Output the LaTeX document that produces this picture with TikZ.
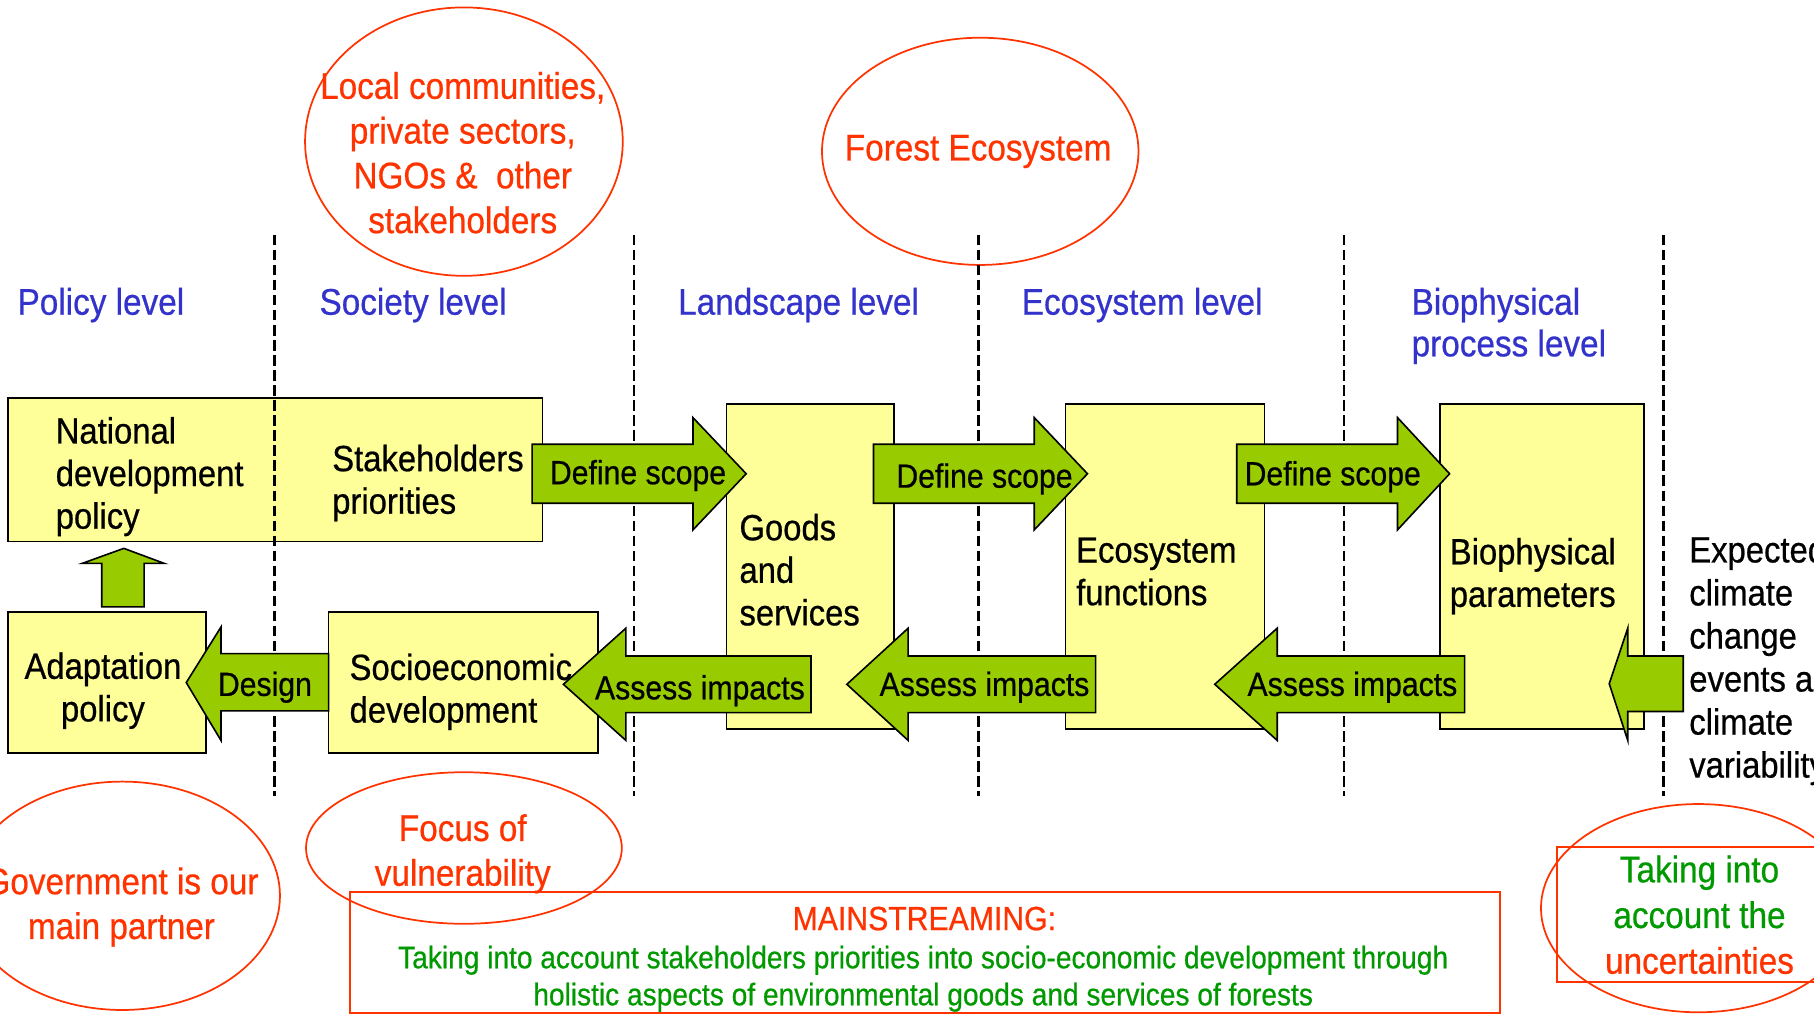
\documentclass[tikz,border=0pt]{standalone}
\usepackage{fontspec}
\setmainfont{Liberation Sans}[FakeStretch=0.9,FakeBold=0.6]
\usetikzlibrary{shapes.geometric}

\definecolor{boxyellow}{HTML}{FFFF99}
\definecolor{arrgreen}{HTML}{99CC00}
\definecolor{ored}{HTML}{FF3300}
\definecolor{lvlblue}{HTML}{3333CC}
\definecolor{txtgreen}{HTML}{009900}

\tikzset{
  lvl/.style={anchor=base west, text=lvlblue, align=left, inner sep=0,
    font=\fontsize{32}{36}\selectfont},
  ybox/.style={draw, fill=boxyellow, line width=1.5pt, inner sep=0},
  btxt/.style={inner sep=0, align=left, font=\fontsize{31.5}{36.8}\selectfont},
  garr/.style={draw, fill=arrgreen, line width=1.4pt, line join=miter},
  atxt/.style={inner sep=0, font=\fontsize{29}{34}\selectfont},
  bubble/.style={ellipse, draw=ored, line width=1.5pt, inner sep=0},
  rtxt/.style={inner sep=0, align=center, text=ored,
    font=\fontsize{32}{38.7}\selectfont},
  rbox/.style={draw=ored, line width=1.5pt, inner sep=0},
  sep/.style={dash pattern=on 9pt off 4pt}
}

\begin{document}
\begin{tikzpicture}[x=1pt,y=-1pt]
  \useasboundingbox (0,0) rectangle (1568,876);

  % levels
  \node[lvl] (pol) at (15,272)   {Policy level};
  \node[lvl] (soc) at (276,272)  {Society level};
  \node[lvl] (lan) at (586,272)  {Landscape level};
  \node[lvl] (eco) at (883,272)  {Ecosystem level};
  \node[lvl] (bio) at (1220,308) {Biophysical\\process level};

  % red bubbles
  \node[bubble, minimum width=274.6pt, minimum height=232pt] (comm) at (401,122.4) {};
  \node[rtxt] (commtxt) at (400,132) {Local communities,\\private sectors,\\NGOs \&~ other\\stakeholders};
  \node[bubble, minimum width=273.6pt, minimum height=196.4pt] (forest) at (847.3,130.8) {};
  \node[rtxt] (foresttxt) at (845.5,131) {Forest Ecosystem};
  \node[bubble, minimum width=272.6pt, minimum height=197.4pt] (gov) at (105.7,774.3) {};
  \node[rtxt] (govtxt) at (105,784) {Government is our\\main partner};
  \node[bubble, minimum width=273pt, minimum height=131pt] (focus) at (401,733) {};
  \node[rtxt] (focustxt) at (400,738) {Focus of\\vulnerability};
  \node[bubble, minimum width=272pt, minimum height=180pt] (uncert) at (1468,785) {};

  % red boxes
  \node[rbox, minimum width=994.2pt, minimum height=104.5pt] (mains) at (799.7,823.3) {};
  \node[inner sep=0, text=ored, font=\fontsize{29}{32}\selectfont] (mtitle) at (799,794) {MAINSTREAMING:};
  \node[inner sep=0, align=center, text=txtgreen, font=\fontsize{27}{32}\selectfont] (mtext) at (798,846)
    {Taking into account stakeholders priorities into socio-economic development through\\holistic aspects of environmental goods and services of forests};
  \node[rbox, minimum width=246.6pt, minimum height=116.7pt, align=center, text=txtgreen,
    font=\fontsize{32}{39.5}\selectfont] (acc) at (1469,790.7)
    {Taking into\\account the\\\textcolor{ored}{uncertainties}};

  % yellow boxes
  \node[ybox, minimum width=462pt, minimum height=124pt] (top) at (238,406) {};
  \node[btxt, anchor=west] (nat) at (48,412) {National\\development\\policy};
  \node[btxt, anchor=west] (stk) at (287,417.5) {Stakeholders\\priorities};
  \node[ybox, minimum width=171pt, minimum height=122pt] (adapt) at (92.5,590) {};
  \node[btxt, align=center] (adtxt) at (89,597) {Adaptation\\policy};
  \node[ybox, minimum width=233pt, minimum height=122pt] (socio) at (400.5,590) {};
  \node[btxt, anchor=west] (sotxt) at (302,598) {Socioeconomic\\development};
  \node[ybox, minimum width=145pt, minimum height=281pt] (goods) at (700.5,489.5) {};
  \node[btxt, anchor=west] (gdtxt) at (639,492.5) {Goods\\and\\services};
  \node[ybox, minimum width=172pt, minimum height=281pt] (ecof) at (1007,489.5) {};
  \node[btxt, anchor=west] (eftxt) at (930,494) {Ecosystem\\functions};
  \node[ybox, minimum width=176pt, minimum height=281pt] (biop) at (1333,489.5) {};
  \node[btxt, anchor=west] (bptxt) at (1253,498) {Biophysical\\parameters};

  % level borders
  \foreach \x/\w in {237/2.6, 548/1.6, 846/2.6, 1162/1.6, 1438/2.6}
    \draw[sep, line width=\w pt] (\x,203) -- (\x,688);

  % block arrows
  \draw[garr] (460,384) -- (599,384) -- (599,361) -- (645,409.5) -- (599,458) -- (599,435) -- (460,435) -- cycle;
  \draw[garr] (755,384) -- (894,384) -- (894,361) -- (940,409.5) -- (894,458) -- (894,435) -- (755,435) -- cycle;
  \draw[garr] (1069,384) -- (1208,384) -- (1208,361) -- (1253,409.5) -- (1208,458) -- (1208,435) -- (1069,435) -- cycle;
  \draw[garr] (701,567) -- (541,567) -- (541,543) -- (487,591.5) -- (541,640) -- (541,616) -- (701,616) -- cycle;
  \draw[garr] (947,567) -- (785,567) -- (785,543) -- (732,591.5) -- (785,640) -- (785,616) -- (947,616) -- cycle;
  \draw[garr] (1266,567) -- (1104,567) -- (1104,543) -- (1050,591.5) -- (1104,640) -- (1104,616) -- (1266,616) -- cycle;
  \draw[garr] (284,565) -- (191,565) -- (191,542) -- (161,590) -- (191,640) -- (191,614.5) -- (284,614.5) -- cycle;
  \draw[garr] (1455,567) -- (1407,567) -- (1407,543) -- (1391,591) -- (1407,640) -- (1407,615) -- (1455,615) -- cycle;
  \draw[garr] (88,524.6) -- (88,487) -- (71,487) -- (107,474) -- (142,487) -- (124.6,487) -- (124.6,524.6) -- cycle;

  \node[atxt] (def1) at (551.5,411) {Define scope};
  \node[atxt] (def2) at (851,414)   {Define scope};
  \node[atxt] (def3) at (1152,412)  {Define scope};
  \node[atxt] (ass1) at (605,597)   {Assess impacts};
  \node[atxt] (ass2) at (851,594)   {Assess impacts};
  \node[atxt] (ass3) at (1169,594)  {Assess impacts};
  \node[atxt] (dsgn) at (229,594)   {Design};

  % climate driver
  \node[btxt, anchor=west, font=\fontsize{31.5}{37.2}\selectfont] (clim) at (1460,571)
    {Expected\\climate\\change\\events and\\climate\\variability};
\end{tikzpicture}
\end{document}
